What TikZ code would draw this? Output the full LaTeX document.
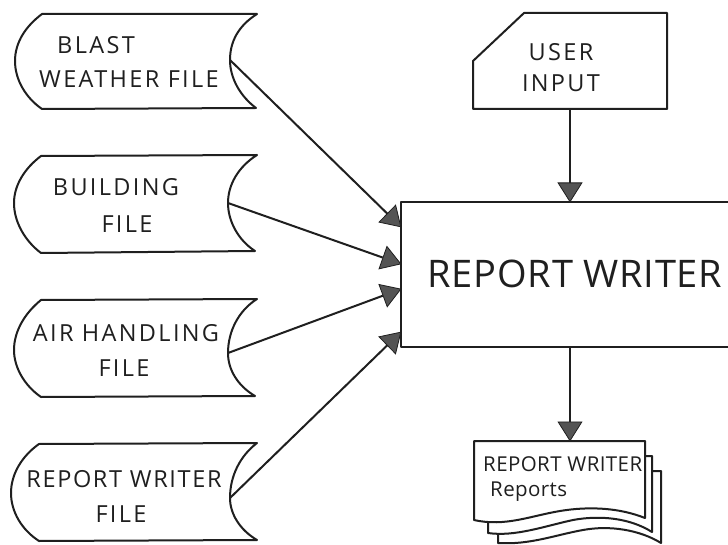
\documentclass[tikz,border=0pt]{standalone}
\usepackage{fontspec}
\setmainfont{Open Sans}
\newfontfamily\spacedfont[LetterSpace=10]{Open Sans}
\newfontfamily\repfont[LetterSpace=7]{Open Sans}
\newfontfamily\midfont[LetterSpace=2]{Open Sans}
\newfontfamily\bigfont[LetterSpace=2]{Open Sans}
\usetikzlibrary{arrows.meta}
\definecolor{ink}{gray}{0.12}
\definecolor{headfill}{gray}{0.33}
\tikzset{
  x=1pt,y=-1pt,
  outline/.style={draw=ink,line width=2pt,line join=round,fill=white},
  conn/.style={draw=ink,line width=2pt,-{Triangle[length=20pt,width=25pt,fill=headfill,line width=0.8pt]},shorten >=-0.5pt},
  small/.style={font=\spacedfont\fontsize{23.5}{25}\selectfont,text=ink,inner sep=0pt,align=center},
  smallrep/.style={font=\repfont\fontsize{23.5}{25}\selectfont,text=ink,inner sep=0pt,align=center},
  tiny/.style={font=\midfont\fontsize{20.5}{22}\selectfont,text=ink,inner sep=0pt},
  big/.style={font=\bigfont\fontsize{38}{40}\selectfont,text=ink,inner sep=0pt}
}
\begin{document}
\begin{tikzpicture}
\useasboundingbox (0,0) rectangle (728,545);
\clip (0,0) rectangle (728,545);
% files
\draw[outline] (42,14) -- (257,14) .. controls (238,26) and (230,42) .. (230,60) .. controls (230,78) and (240,96) .. (256,108) -- (42,109) .. controls (26,98) and (15,80) .. (15,61) .. controls (15,42) and (26,26) .. (42,14) -- cycle;
\coordinate (blastport) at (230,60);
\node[small] (blast1) at (96,45) {BLAST};
\node[small] (blast2) at (129,79) {WEATHER FILE};
\draw[outline] (41,156) -- (257,155) .. controls (238,167) and (228,185) .. (228,203) .. controls (228,221) and (238,240) .. (255,251) -- (41,253) .. controls (25,241) and (14,222) .. (14,203) .. controls (14,185) and (25,168) .. (41,156) -- cycle;
\coordinate (buildport) at (228,203);
\node[small] (build1) at (116,187) {BUILDING};
\node[small] (build2) at (127,224) {FILE};
\draw[outline] (41,300) -- (257,299) .. controls (238,311) and (228,332) .. (228,353) .. controls (228,370) and (238,386) .. (255,396) -- (41,397) .. controls (25,386) and (14,368) .. (14,350) .. controls (14,331) and (25,313) .. (41,300) -- cycle;
\coordinate (airport) at (228,353);
\node[small] (air1) at (126,333) {AIR HANDLING};
\node[small] (air2) at (124,368) {FILE};
\draw[outline] (39,444) -- (257,443) .. controls (240,456) and (230,476) .. (230,498) .. controls (230,514) and (240,530) .. (257,540) -- (39,541) .. controls (22,530) and (11,512) .. (11,493) .. controls (11,474) and (22,456) .. (39,444) -- cycle;
\coordinate (repport) at (230,498);
\node[smallrep] (rep1) at (124,479) {REPORT WRITER};
\node[small] (rep2) at (121,514) {FILE};
% user input
\draw[outline] (524,13) -- (667,13) -- (667,109) -- (473,109) -- (473,61) -- cycle;
\coordinate (userport) at (570,109);
\node[small] (user1) at (561,52) {USER};
\node[small] (user2) at (561,83) {INPUT};
% main box
\draw[outline] (401,202) rectangle (745,347);
\node[big] (main) at (575,274) {REPORT WRITER};
\coordinate (maintop) at (570,202);
\coordinate (mainbot) at (570,347);
\coordinate (tipa) at (401,227);
\coordinate (tipb) at (401,264);
\coordinate (tipc) at (401,289);
\coordinate (tipd) at (401,332);
% report stack
\draw[outline] (498,471) -- (661,471) -- (661,543) .. controls (640,530) and (610,525) .. (583,530) .. controls (555,535) and (530,545) .. (498,543) -- cycle;
\draw[outline] (488,456) -- (652,456) -- (652,532) .. controls (630,518) and (600,515) .. (573,520) .. controls (545,526) and (515,537) .. (488,533) -- cycle;
\draw[outline] (474,441) -- (645,441) -- (645,518) .. controls (620,508) and (590,506) .. (560,511) .. controls (530,516) and (505,527) .. (474,520) -- cycle;
\coordinate (doctop) at (570,441);
\node[tiny,anchor=west] (doc1) at (483,464) {REPORT WRITER};
\node[tiny,anchor=west] (doc2) at (490,492) {Reports};
% connectors
\draw[conn] (blastport) -- (tipa);
\draw[conn] (buildport) -- (tipb);
\draw[conn] (airport) -- (tipc);
\draw[conn] (repport) -- (tipd);
\draw[conn] (userport) -- (maintop);
\draw[conn] (mainbot) -- (doctop);
\end{tikzpicture}
\end{document}
